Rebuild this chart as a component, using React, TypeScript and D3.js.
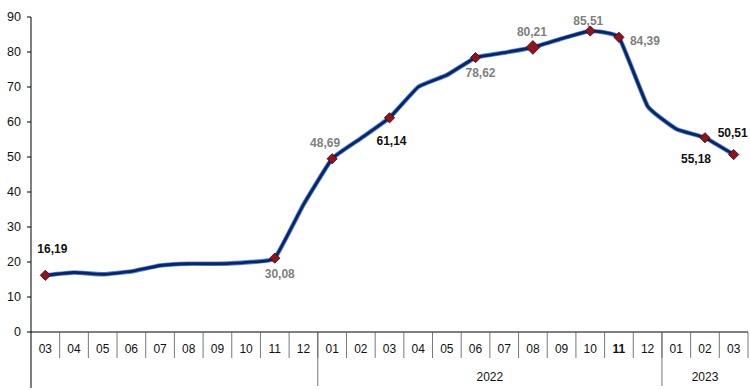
import { useRef, useEffect } from "react";
import * as d3 from "d3";

const months = [
  "03", "04", "05", "06", "07", "08", "09", "10", "11", "12",
  "01", "02", "03", "04", "05", "06", "07", "08", "09", "10", "11", "12",
  "01", "02", "03",
];
const values = [
  16.2, 17.0, 16.5, 17.3, 19.0, 19.5, 19.5, 19.9, 21.1, 36.4,
  49.5, 55.3, 61.2, 70.0, 73.4, 78.4, 79.8, 81.3, 83.8, 86.0, 84.2, 64.5,
  58.0, 55.5, 50.7,
];
const years = ["", "2022", "2023"];
const yearCounts = [10, 12, 3];
const yTicks = [0, 10, 20, 30, 40, 50, 60, 70, 80, 90];

// annotated points: index, label text, colour, offset of label
const labelIdx = [0, 8, 10, 12, 15, 17, 19, 20, 23, 24];
const labelText = ["16,19", "30,08", "48,69", "61,14", "78,62", "80,21", "85,51", "84,39", "55,18", "50,51"];
const labelGray = [false, true, true, false, true, true, true, true, false, false];
const labelDx = [7, 5, -7, 2, 5, -1, -2, 26, -9, -1];
const labelDy = [-27, 16, -16, 23, 15, -16, -10, 3, 21, -22];

export default function App() {
  const gRef = useRef(null);

  useEffect(() => {
    const left = 31;
    const right = 748;
    const top = 17;
    const base = 332;

    const x = d3.scaleBand<number>().domain(d3.range(months.length)).range([left, right]);
    const y = d3.scaleLinear().domain([0, 90]).range([base, top]);
    const cx = (i: number) => (x(i) as number) + x.bandwidth() / 2;

    const g = d3.select(gRef.current);
    g.selectAll("*").remove();

    const font = "'Liberation Sans', Arial, sans-serif";

    // y axis
    g.append("line").attr("x1", left).attr("x2", left).attr("y1", top).attr("y2", 388)
      .attr("stroke", "#000").attr("stroke-width", 1);
    yTicks.forEach((t) => {
      g.append("line").attr("x1", left - 4).attr("x2", left).attr("y1", y(t)).attr("y2", y(t))
        .attr("stroke", "#000");
      g.append("text").attr("x", left - 10).attr("y", y(t)).attr("dy", "0.35em")
        .attr("text-anchor", "end").attr("font-family", font).attr("font-size", 12.5)
        .attr("fill", "#111").text(t);
    });

    // x axis
    g.append("line").attr("x1", left).attr("x2", right).attr("y1", base).attr("y2", base)
      .attr("stroke", "#000");
    months.forEach((m, i) => {
      const bx = x(i) as number;
      if (i > 0) {
        g.append("line").attr("x1", bx).attr("x2", bx).attr("y1", base).attr("y2", base + 26)
          .attr("stroke", "#555").attr("stroke-width", 0.8);
      }
      g.append("text").attr("x", cx(i)).attr("y", base + 21).attr("text-anchor", "middle")
        .attr("font-family", font).attr("font-size", 12)
        .attr("font-weight", i === 20 ? "bold" : "normal")
        .attr("fill", "#111").text(m);
    });
    g.append("line").attr("x1", right).attr("x2", right).attr("y1", base).attr("y2", base + 26)
      .attr("stroke", "#555").attr("stroke-width", 0.8);

    let start = 0;
    years.forEach((yr, k) => {
      const end = start + yearCounts[k];
      const x0 = x(start) as number;
      const x1 = end >= months.length ? right : (x(end) as number);
      if (end < months.length) {
        g.append("line").attr("x1", x1).attr("x2", x1).attr("y1", base).attr("y2", 386)
          .attr("stroke", "#555").attr("stroke-width", 0.8);
      }
      if (yr) {
        g.append("text").attr("x", (x0 + x1) / 2).attr("y", 381).attr("text-anchor", "middle")
          .attr("font-family", font).attr("font-size", 12).attr("fill", "#111").text(yr);
      }
      start = end;
    });

    // line
    const line = d3.line<number>().x((_, i) => cx(i)).y((d) => y(d)).curve(d3.curveCardinal.tension(0.65));
    g.append("path").attr("d", line(values)).attr("fill", "none")
      .attr("stroke", "#5a8ad4").attr("stroke-width", 4.6).attr("stroke-linejoin", "round");
    g.append("path").attr("d", line(values)).attr("fill", "none")
      .attr("stroke", "#0a2468").attr("stroke-width", 2.8).attr("stroke-linejoin", "round");

    // markers and labels
    labelIdx.forEach((idx, k) => {
      const size = idx === 17 ? 95 : 52;
      g.append("path")
        .attr("d", d3.symbol(d3.symbolSquare, size)())
        .attr("transform", `translate(${cx(idx)},${y(values[idx])}) rotate(45)`)
        .attr("fill", "#8e1420").attr("stroke", "#3a0a0e").attr("stroke-width", 0.8);
      g.append("text")
        .attr("x", cx(idx) + labelDx[k]).attr("y", y(values[idx]) + labelDy[k])
        .attr("dy", "0.35em").attr("text-anchor", "middle")
        .attr("font-family", font).attr("font-size", 12).attr("font-weight", "bold")
        .attr("fill", labelGray[k] ? "#7f7f7f" : "#111").text(labelText[k]);
    });
  }, []);

  return (
    <svg width={750} height={390} style={{ position: "absolute", left: 0, top: 0, background: "#fff" }}>
      <g ref={gRef}></g>
    </svg>
  );
}
